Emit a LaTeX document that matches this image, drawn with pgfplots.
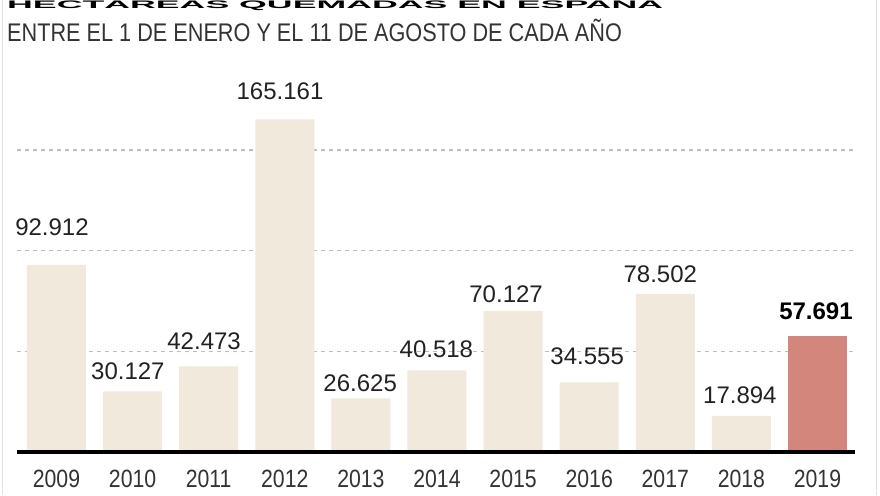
\documentclass[border=0pt]{standalone}
\usepackage{pgfplots}
\usepackage{pgfplotstable}
\pgfplotsset{compat=1.18}
\usepackage{fontspec}
\setmainfont{Liberation Sans}
\newfontfamily\cond[FakeStretch=0.85]{Liberation Sans}
\newfontfamily\condbold[FakeStretch=0.85]{Liberation Sans Bold}
\definecolor{beige}{HTML}{F1EADC}
\definecolor{salmon}{HTML}{D3867B}
\definecolor{txt}{HTML}{222222}
\definecolor{sub}{HTML}{333333}
\definecolor{gridc}{HTML}{BDBDBD}

\pgfplotstableread{
x y gap xoff label
0 92912 29 -4.5 92.912
1 30127 12 -4.7 30.127
2 42473 17 -4.6 42.473
3 165161 20 -4.8 165.161
4 26625 7 -0.7 26.625
5 40518 13 -0.6 40.518
6 70127 8.5 -7 70.127
7 34555 18 -2 34.555
8 78502 11 -5 78.502
9 17894 12.5 -1.5 17.894
}\databeige
\pgfplotstableread{
x y gap xoff label
10 57691 16 -1.5 57.691
}\datared

\begin{document}
\begin{tikzpicture}[x=1pt,y=1pt]
\fill[white] (0,0) rectangle (880,495);
\useasboundingbox (0,0) rectangle (880,495);
\draw[black!12] (2,0) -- (2,495);
\draw[black!12] (876,0) -- (876,495);
\node[anchor=base west, inner sep=0pt, text=black, yscale=0.26, transform shape, font=\condbold\fontsize{42}{46}\selectfont] at (7,486.5) {HECTÁREAS QUEMADAS EN ESPAÑA};
\node[anchor=base west, inner sep=0pt, text=sub, font=\cond\fontsize{25.5}{28}\selectfont] at (7,453) {ENTRE EL 1 DE ENERO Y EL 11 DE AGOSTO DE CADA AÑO};
\begin{axis}[
  at={(17pt,43pt)}, anchor=south west,
  scale only axis, width=838pt, height=342.4pt,
  xmin=-0.519, xmax=10.493, ymin=0, ymax=170000,
  scaled y ticks=false,
  axis line style={draw=none},
  ytick={50000,100000,150000}, yticklabels={},
  ymajorgrids, major grid style={gridc, line width=1.5pt, dash pattern=on 4pt off 4pt},
  y tick style={draw=none}, x tick style={draw=none},
  xtick={0,1,2,3,4,5,6,7,8,9,10},
  xticklabels={2009,2010,2011,2012,2013,2014,2015,2016,2017,2018,2019},
  xticklabel style={anchor=base, inner sep=0pt, yshift=-31pt, text=sub, font=\cond\fontsize{25}{28}\selectfont},
  ybar, bar width=59pt, bar shift=0pt,
  clip=false,
  point meta=explicit symbolic,
  nodes near coords,
]
\addplot[fill=beige, draw=none,
  visualization depends on={\thisrow{gap}\as\gap},
  visualization depends on={\thisrow{xoff}\as\xoff},
  every node near coord/.append style={anchor=base, inner sep=0pt, xshift=\xoff pt, yshift=\gap pt, text=txt, font=\fontsize{24}{28}\selectfont}]
  table[x=x, y=y, meta=label] {\databeige};
\addplot[fill=salmon, draw=none,
  visualization depends on={\thisrow{gap}\as\gap},
  visualization depends on={\thisrow{xoff}\as\xoff},
  every node near coord/.append style={anchor=base, inner sep=0pt, xshift=\xoff pt, yshift=\gap pt, text=black, font=\bfseries\fontsize{24}{28}\selectfont}]
  table[x=x, y=y, meta=label] {\datared};
\draw[line width=4pt, black] (axis cs:-0.519,0) -- (axis cs:10.493,0);
\end{axis}
\end{tikzpicture}
\end{document}
